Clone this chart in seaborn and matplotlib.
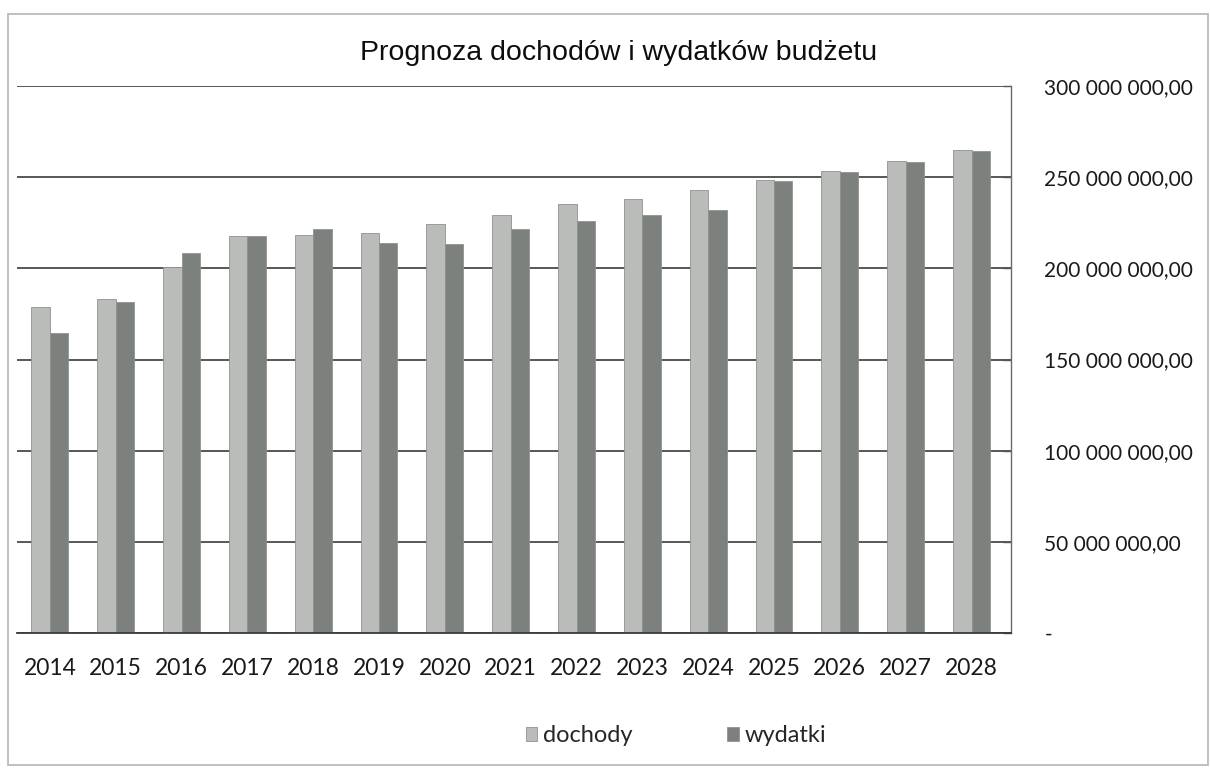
import matplotlib
matplotlib.use("Agg")
import matplotlib.pyplot as plt
import seaborn as sns
import pandas as pd
from matplotlib.ticker import FuncFormatter, MultipleLocator
from matplotlib.patches import Rectangle

years = ["2014", "2015", "2016", "2017", "2018", "2019", "2020", "2021",
         "2022", "2023", "2024", "2025", "2026", "2027", "2028"]
dochody = [179.0, 183.3, 200.7, 217.6, 218.2, 219.6, 224.2, 229.5,
           235.3, 237.8, 242.8, 248.7, 253.4, 258.8, 264.7]
wydatki = [164.7, 181.3, 208.4, 217.8, 221.5, 213.8, 213.3, 221.7,
           225.8, 229.2, 232.1, 247.8, 253.0, 258.5, 264.5]
series_names = ["dochody", "wydatki"]
title = "Prognoza dochodów i wydatków budżetu"

df = pd.DataFrame({
    "rok": years * 2,
    "seria": [series_names[0]] * len(years) + [series_names[1]] * len(years),
    "wartosc": [v * 1e6 for v in dochody] + [v * 1e6 for v in wydatki],
})

sns.set_theme(style="white")
plt.rcParams["font.family"] = ["Lato", "DejaVu Sans"]

W, H = 1210, 773
fig = plt.figure(figsize=(W / 100, H / 100), dpi=100)
fig.patch.set_facecolor("white")

# outer frame (scanned chart border)
fig.patches.append(Rectangle((8 / W, 8 / H), (W - 10) / W, (H - 22) / H,
                             transform=fig.transFigure, fill=False,
                             edgecolor="#b5b5b5", linewidth=1.2))

ax = fig.add_axes([17 / W, (H - 633) / H, (1011 - 17) / W, (633 - 86) / H])
palette = {"dochody": "#b9bcb9", "wydatki": "#7d817e"}
sns.barplot(data=df, x="rok", y="wartosc", hue="seria", palette=palette,
            width=0.56, dodge=True, ax=ax, edgecolor="#8f928f", linewidth=0.6,
            legend=True, saturation=1)

ax.set_ylim(0, 300e6)
ax.set_xlim(-0.5, len(years) - 0.4)
ax.yaxis.set_major_locator(MultipleLocator(50e6))


def fmt(v, pos):
    if abs(v) < 1:
        return "-"
    s = f"{v:,.2f}"
    return s.replace(",", " ").replace(".", ",")


ax.yaxis.set_major_formatter(FuncFormatter(fmt))
ax.yaxis.tick_right()
ax.yaxis.set_label_position("right")
ax.set_xlabel("")
ax.set_ylabel("")
ax.grid(axis="y", color="#4a4a4a", linewidth=1.3)
ax.set_axisbelow(True)
for side in ["top", "left"]:
    ax.spines[side].set_visible(False)
ax.spines["bottom"].set_color("#3a3a3a")
ax.spines["bottom"].set_linewidth(1.3)
ax.spines["right"].set_color("#6a6a6a")
ax.spines["right"].set_linewidth(1.0)
ax.tick_params(axis="y", which="major", direction="in", length=6, width=1,
               color="#555555", right=True, labelright=True, pad=24,
               labelsize=15, labelcolor="#1a1a1a")
ax.tick_params(axis="x", length=0, pad=18, labelsize=16.5, labelcolor="#1a1a1a")
for lbl in ax.get_yticklabels():
    lbl.set_horizontalalignment("left")

fig.text(619 / W, (H - 60) / H, title, ha="center", va="baseline", fontsize=20.5,
         family=["Liberation Sans", "DejaVu Sans"], color="#0d0d0d")

handles, labels = ax.get_legend_handles_labels()
ax.legend_.remove()
fig.legend(handles, labels, loc="center", bbox_to_anchor=(676 / W, (H - 736) / H),
           ncol=2, frameon=False, fontsize=17, handlelength=0.5,
           handleheight=0.5, columnspacing=4.0, handletextpad=0.25)

fig.savefig("out.png", dpi=100)
